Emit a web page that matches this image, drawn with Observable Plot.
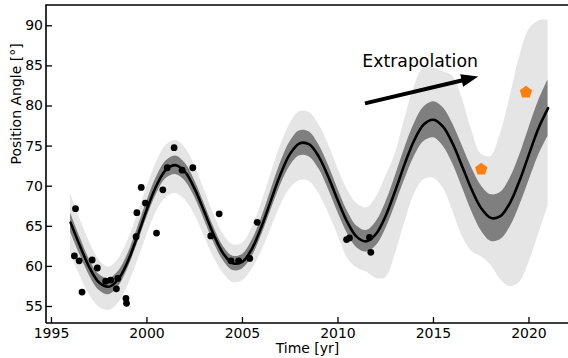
<!DOCTYPE html>
<html><head><meta charset="utf-8">
<script src="https://cdn.jsdelivr.net/npm/d3@7"></script>
<script src="https://cdn.jsdelivr.net/npm/@observablehq/plot@0.6"></script>
<style>html,body{margin:0;padding:0;background:#fff;}</style>
</head><body><div id="chart"></div>
<script>
// model curve sample times
const years = [1996.0,1996.5,1997.0,1997.5,1998.0,1998.5,1999.0,1999.5,2000.0,2000.5,2001.0,2001.5,2002.0,2002.5,2003.0,2003.5,2004.0,2004.5,2005.0,2005.5,2006.0,2006.5,2007.0,2007.5,2008.0,2008.5,2009.0,2009.5,2010.0,2010.5,2011.0,2011.5,2012.0,2012.5,2013.0,2013.5,2014.0,2014.5,2015.0,2015.5,2016.0,2016.5,2017.0,2017.5,2018.0,2018.5,2019.0,2019.5,2020.0,2020.5,2021.0];
const fitPA = [65.46,62.51,59.81,57.98,57.46,58.40,60.65,63.77,67.14,70.09,72.05,72.62,71.75,69.66,66.83,63.92,61.59,60.38,60.59,62.22,64.97,68.30,71.55,74.06,75.35,75.20,73.66,71.13,68.18,65.48,63.65,63.13,64.07,66.32,69.44,72.81,75.76,77.72,78.29,77.42,75.33,72.50,69.59,67.26,66.05,66.26,67.89,70.64,73.97,77.22,79.73];
const innerLo = [64.26,61.41,58.81,56.98,56.46,57.45,59.75,62.82,66.14,69.04,70.95,71.47,70.65,68.61,65.83,62.97,60.69,59.48,59.69,61.22,63.87,67.05,70.15,72.56,73.80,73.65,72.16,69.63,66.73,64.08,62.30,61.78,62.57,64.67,67.64,70.86,73.71,75.57,76.04,75.02,72.83,69.90,66.89,64.46,63.15,63.31,64.84,67.49,70.67,73.82,76.23];
const innerHi = [66.66,63.61,60.81,58.98,58.46,59.35,61.55,64.72,68.14,71.14,73.15,73.77,72.85,70.71,67.83,64.87,62.49,61.28,61.49,63.22,66.07,69.55,72.95,75.56,76.90,76.75,75.16,72.63,69.63,66.88,65.00,64.48,65.57,67.97,71.24,74.76,77.81,79.87,80.54,79.82,77.83,75.10,72.29,70.06,68.95,69.21,70.94,73.79,77.27,80.62,83.23];
const outerLo = [61.6,58.8,56.4,54.9,54.5,55.4,57.6,60.6,63.9,66.8,68.6,69.1,68.3,66.4,63.8,61.1,59.1,58.0,58.2,59.6,61.9,64.7,67.6,69.7,70.7,70.6,69.1,66.7,63.9,61.0,59.8,59.3,58.5,58.6,61.5,65.5,69.0,70.8,71.0,69.8,67.0,63.8,61.9,61.2,60.2,58.4,57.5,58.0,60.5,64.0,67.5];
const outerHi = [69.1,65.9,63.0,60.8,59.9,60.9,63.2,66.4,69.9,73.0,75.1,75.7,74.8,72.6,69.6,66.5,64.0,62.7,62.9,64.8,67.9,71.6,75.1,77.8,79.3,79.2,77.7,75.2,72.2,69.5,67.8,67.3,68.6,71.2,74.0,78.4,82.4,84.8,84.7,84.3,83.7,81.0,77.0,74.0,73.7,76.5,81.0,86.0,89.5,90.6,90.7];

// observations
const obsYear = [1996.26,1996.2,1996.45,1996.6,1997.13,1997.4,1997.84,1998.1,1998.47,1998.4,1998.9,1998.93,1999.43,1999.47,1999.7,1999.92,2000.5,2000.83,2001.06,2001.42,2001.84,2002.4,2003.34,2003.78,2004.4,2004.8,2005.38,2005.77,2010.45,2010.6,2011.65,2011.72];
const obsPA = [67.2,61.3,60.7,56.8,60.8,59.8,58.15,58.3,58.5,57.2,56.0,55.4,63.7,66.7,69.85,67.9,64.15,69.55,72.3,74.8,72.0,72.3,63.8,66.55,60.7,60.7,61.0,65.5,63.35,63.55,63.6,61.75];

// new points
const newYear = [2017.5, 2019.84];
const newPA = [72.1, 81.7];

const xTicks = [1995,2000,2005,2010,2015,2020];
const yTicks = [55,60,65,70,75,80,85,90];
const xLabel = "Time [yr]";
const yLabel = "Position Angle [°]";
const noteText = "Extrapolation";
const notePos = [2014.3, 85.6];
const arrowStart = [2011.44, 80.27];
const arrowEnd = [2017.37, 83.6];

const band = years.map((t,i)=>({t, pa:fitPA[i], ilo:innerLo[i], ihi:innerHi[i], olo:outerLo[i], ohi:outerHi[i]}));
const obs = obsYear.map((t,i)=>({t, pa:obsPA[i]}));
const pts = newYear.map((t,i)=>({t, pa:newPA[i]}));

const pentagon = {
  draw(ctx, size) {
    const r = Math.sqrt(size / Math.PI);
    for (let i = 0; i < 5; i++) {
      const a = -Math.PI/2 + i*2*Math.PI/5;
      const px = r*Math.cos(a), py = r*Math.sin(a);
      if (i === 0) ctx.moveTo(px, py); else ctx.lineTo(px, py);
    }
    ctx.closePath();
  }
};

function spines(index, scales, values, dims) {
  const {width, height, marginLeft, marginTop, marginBottom} = dims;
  const g = d3.create("svg:g").attr("stroke", "#000").attr("stroke-width", 1.6).attr("fill", "none");
  const yb = height - marginBottom;
  g.append("path").attr("d", `M${marginLeft},${yb}V${marginTop}H${width}`);
  g.append("path").attr("d", `M${marginLeft},${yb}H${width}`);
  return g.node();
}

function arrowMark(index, scales) {
  const x1 = scales.x(arrowStart[0]), y1 = scales.y(arrowStart[1]);
  const x2 = scales.x(arrowEnd[0]), y2 = scales.y(arrowEnd[1]);
  const dx = x2-x1, dy = y2-y1, L = Math.hypot(dx, dy);
  const ux = dx/L, uy = dy/L, px = -uy, py = ux;
  const hl = 17, hw = 6.5, sw = 2;
  const bx = x2 - ux*hl, by = y2 - uy*hl;
  const p = [
    [x1+px*sw, y1+py*sw], [bx+px*sw, by+py*sw], [bx+px*hw, by+py*hw], [x2, y2],
    [bx-px*hw, by-py*hw], [bx-px*sw, by-py*sw], [x1-px*sw, y1-py*sw]
  ];
  return d3.create("svg:polygon").attr("points", p.map(d=>d.join(",")).join(" ")).attr("fill", "#000").node();
}

const chart = Plot.plot({
  width: 568, height: 358,
  marginLeft: 46, marginTop: 5, marginRight: 0, marginBottom: 35,
  x: {domain: [1994.74, 2022.07], axis: null},
  y: {domain: [52.88, 92.53], axis: null},
  style: {fontFamily: "DejaVu Sans", fontSize: "14px", background: "#fff", color: "#000"},
  marks: [
    Plot.areaY(band, {x: "t", y1: "olo", y2: "ohi", fill: "#e5e5e5", curve: "catmull-rom"}),
    Plot.areaY(band, {x: "t", y1: "ilo", y2: "ihi", fill: "#7f7f7f", curve: "catmull-rom"}),
    Plot.line(band, {x: "t", y: "pa", stroke: "#000", strokeWidth: 2.6, curve: "catmull-rom"}),
    Plot.dot(obs, {x: "t", y: "pa", r: 3.4, fill: "#000", stroke: "none"}),
    Plot.dot(pts, {x: "t", y: "pa", r: 6.5, symbol: pentagon, fill: "#ff7f0e", stroke: "none"}),
    arrowMark,
    Plot.text([noteText], {x: () => notePos[0], y: () => notePos[1], text: d => d, fontSize: 17.3, lineAnchor: "middle"}),
    Plot.ruleX(xTicks, {x: d => d, insetTop: 312, stroke: "#000", strokeWidth: 1.3}),
    Plot.ruleY(yTicks, {y: d => d, insetRight: 516, stroke: "#000", strokeWidth: 1.3}),
    Plot.text(xTicks, {x: d => d, text: d => String(d), frameAnchor: "bottom", lineAnchor: "top", dy: 5}),
    Plot.text(yTicks, {y: d => d, text: d => String(d), frameAnchor: "left", textAnchor: "end", dx: -3.5}),
    Plot.text([xLabel], {text: d => d, frameAnchor: "bottom", lineAnchor: "top", dy: 20}),
    Plot.text([yLabel], {text: d => d, frameAnchor: "left", rotate: -90, lineAnchor: "middle", dx: -30}),
    spines
  ]
});
document.getElementById("chart").appendChild(chart);
</script>
</body></html>
